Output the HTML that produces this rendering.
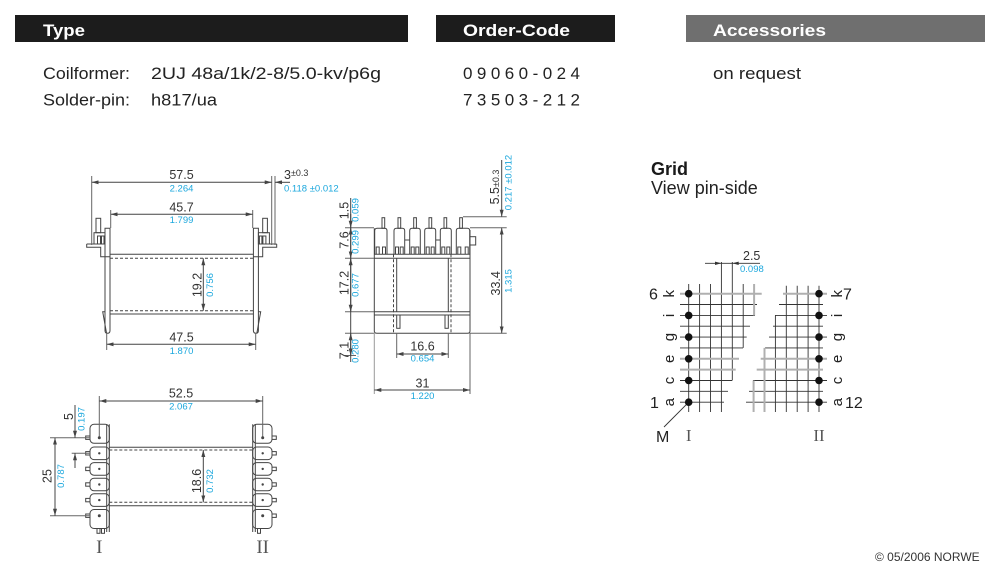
<!DOCTYPE html>
<html><head><meta charset="utf-8"><style>
html,body{margin:0;padding:0;background:#fff;}
svg{display:block;}
</style></head><body>
<svg width="1000" height="577" viewBox="0 0 1000 577" xmlns="http://www.w3.org/2000/svg" font-family="'Liberation Sans', Arial, sans-serif">
<defs>
<marker id="ar" viewBox="0 0 7 4" refX="7" refY="2" markerWidth="7" markerHeight="4" markerUnits="userSpaceOnUse" orient="auto-start-reverse"><path d="M0,0 L7,2 L0,4 Z" fill="#444"/></marker>
</defs>

<!-- HEADER -->
<rect x="15" y="15" width="393" height="27" fill="#1c1c1c"/>
<rect x="436" y="15" width="179" height="27" fill="#1c1c1c"/>
<rect x="686" y="15" width="299" height="27" fill="#6f6f6f"/>
<g font-weight="bold" font-size="17" fill="#fff">
<text x="43" y="36" textLength="42" lengthAdjust="spacingAndGlyphs">Type</text>
<text x="463" y="36" textLength="107" lengthAdjust="spacingAndGlyphs">Order-Code</text>
<text x="713" y="36" textLength="113" lengthAdjust="spacingAndGlyphs">Accessories</text>
</g>
<g font-size="17" fill="#222">
<text x="43" y="79" textLength="87" lengthAdjust="spacingAndGlyphs">Coilformer:</text>
<text x="151" y="79" textLength="230" lengthAdjust="spacingAndGlyphs">2UJ 48a/1k/2-8/5.0-kv/p6g</text>
<text x="43" y="105.5" textLength="87" lengthAdjust="spacingAndGlyphs">Solder-pin:</text>
<text x="151" y="105.5" textLength="66" lengthAdjust="spacingAndGlyphs">h817/ua</text>
<text x="463" y="79" textLength="117" lengthAdjust="spacing">09060-024</text>
<text x="463" y="105.5" textLength="117" lengthAdjust="spacing">73503-212</text>
<text x="713" y="79" textLength="88" lengthAdjust="spacingAndGlyphs">on request</text>
</g>

<!-- FRONT VIEW -->
<g stroke="#444" stroke-width="1" fill="none">
 <g>
  <path d="M105,228.3 V330.5 Q105,333.3 107.5,333.3 Q110,333.3 110,330.5 V228.3 Z"/>
  <path d="M105,311.7 H102.7 L106.5,333"/>
  <rect x="96" y="218.3" width="4.7" height="14.4"/>
  <rect x="94" y="232.7" width="11" height="11.3"/>
  <path d="M97.5,244 V236 H100.5 V244 M101.5,244 V236 H104 V244"/>
  <path d="M86.7,244 H105 M86.7,244 V247.3 H100.7 V256.7 H110"/>
 </g>
 <g transform="translate(363.4,0) scale(-1,1)">
  <path d="M105,228.3 V330.5 Q105,333.3 107.5,333.3 Q110,333.3 110,330.5 V228.3 Z"/>
  <path d="M105,311.7 H102.7 L106.5,333"/>
  <rect x="96" y="218.3" width="4.7" height="14.4"/>
  <rect x="94" y="232.7" width="11" height="11.3"/>
  <path d="M97.5,244 V236 H100.5 V244 M101.5,244 V236 H104 V244"/>
  <path d="M86.7,244 H105 M86.7,244 V247.3 H100.7 V256.7 H110"/>
 </g>
 <path d="M110,254.3 H253.4 M110,314 H253.4"/>
 <path d="M110,258.3 H253.4 M110,310.7 H253.4" stroke-dasharray="3,2"/>
 <!-- ext lines -->
 <path d="M91.7,176 V245 M271.7,176 V245 M275,176 V245 M110.7,210 V228 M252.7,210 V228 M106.7,333 V350 M255.7,333 V350" stroke="#666"/>
 <!-- dims -->
 <line x1="91.7" y1="182.3" x2="271.7" y2="182.3" marker-start="url(#ar)" marker-end="url(#ar)"/>
 <line x1="290" y1="182.3" x2="275" y2="182.3" marker-end="url(#ar)"/>
 <line x1="110.7" y1="214.3" x2="252.7" y2="214.3" marker-start="url(#ar)" marker-end="url(#ar)"/>
 <line x1="203.3" y1="258.3" x2="203.3" y2="310.7" marker-start="url(#ar)" marker-end="url(#ar)"/>
 <line x1="106.7" y1="344.3" x2="255.7" y2="344.3" marker-start="url(#ar)" marker-end="url(#ar)"/>
</g>
<g font-size="12.5" fill="#333" text-anchor="middle">
 <text x="181.5" y="179">57.5</text>
 <text x="181.5" y="211.5">45.7</text>
 <text x="181.5" y="341.5">47.5</text>
 <text transform="translate(201.5,285) rotate(-90)">19.2</text>
</g>
<text x="284" y="179" font-size="12.5" fill="#333">3<tspan font-size="9" dy="-3">±0.3</tspan></text>
<g font-size="9.5" fill="#1aa7dd" text-anchor="middle">
 <text x="181.5" y="191.5">2.264</text>
 <text x="181.5" y="223">1.799</text>
 <text x="181.5" y="354">1.870</text>
 <text transform="translate(213,285) rotate(-90)">0.756</text>
 <text x="284" y="191.5" text-anchor="start">0.118 ±0.012</text>
</g>

<!-- SIDE VIEW -->
<g stroke="#444" stroke-width="1" fill="none">
 <path d="M374.3,228.3 V331 Q374.3,333.3 377,333.3 H467.5 Q470,333.3 470,331 V230"/>
 <path d="M374.3,254.3 H470 M374.3,258.3 H470 M374.3,311.7 H470 M374.3,315 H470"/>
 <path d="M396.7,258.3 V311.7 M448.3,258.3 V311.7"/>
 <path d="M393.5,254.3 V333.3 M451,254.3 V333.3" stroke-dasharray="3,2"/>
 <rect x="396.7" y="315" width="3.3" height="13.3"/>
 <rect x="445" y="315" width="3.3" height="13.3"/>
 <rect x="470" y="236.7" width="5.7" height="8.3"/>
 <!-- heads -->
 <path d="M374.7,254.3 V230.8 Q374.7,228.3 377.2,228.3 H384.5 Q387,228.3 387,230.8 V254.3 M376.2,254.3 V247 H379.2 V254.3 M382.5,254.3 V247 H385.5 V254.3"/>
 <path d="M394,254.3 V230.8 Q394,228.3 396.5,228.3 H402.2 Q404.7,228.3 404.7,230.8 V254.3 M395.5,254.3 V247 H398.5 V254.3 M400.2,254.3 V247 H403.2 V254.3"/>
 <path d="M409.7,254.3 V230.8 Q409.7,228.3 412.2,228.3 H417.8 Q420.3,228.3 420.3,230.8 V254.3 M411.2,254.3 V247 H414.2 V254.3 M415.8,254.3 V247 H418.8 V254.3"/>
 <path d="M424.7,254.3 V230.8 Q424.7,228.3 427.2,228.3 H433.2 Q435.7,228.3 435.7,230.8 V254.3 M426.2,254.3 V247 H429.2 V254.3 M431.2,254.3 V247 H434.2 V254.3"/>
 <path d="M440.3,254.3 V230.8 Q440.3,228.3 442.8,228.3 H448.8 Q451.3,228.3 451.3,230.8 V254.3 M441.8,254.3 V247 H444.8 V254.3 M446.8,254.3 V247 H449.8 V254.3"/>
 <path d="M456.3,254.3 V230.8 Q456.3,228.3 458.8,228.3 H467.2 Q469.7,228.3 469.7,230.8 V254.3 M457.8,254.3 V247 H460.8 V254.3 M465.2,254.3 V247 H468.2 V254.3"/>
 <path d="M404.7,240 H409.7 M435.7,240 H440.3"/>
 <rect x="382" y="217.7" width="2.7" height="10.6"/>
 <rect x="398" y="217.7" width="2.7" height="10.6"/>
 <rect x="413.7" y="217.7" width="2.7" height="10.6"/>
 <rect x="429" y="217.7" width="2.7" height="10.6"/>
 <rect x="444" y="217.7" width="2.7" height="10.6"/>
 <rect x="459.7" y="217.7" width="2.7" height="10.6"/>
 <!-- ext lines -->
 <path d="M345,227.7 H374 M345,258.3 H374 M345,311.7 H374 M345,333.3 H374 M345,355.5 H356 M463,216.7 H506.7 M470,227.7 H506.7 M470,333.3 H506.7 M396.7,333 V358 M448.3,333 V358 M470,333 V394" stroke="#666"/>
 <path d="M374.3,333 V394" stroke="#999"/>
 <!-- dims -->
 <line x1="350.7" y1="198" x2="350.7" y2="362"/>
 <line x1="350.7" y1="214" x2="350.7" y2="227.7" marker-end="url(#ar)"/>
 <line x1="350.7" y1="227.7" x2="350.7" y2="258.3" marker-start="url(#ar)" marker-end="url(#ar)"/>
 <line x1="350.7" y1="258.3" x2="350.7" y2="311.7" marker-start="url(#ar)" marker-end="url(#ar)"/>
 <line x1="350.7" y1="333.3" x2="350.7" y2="355.5" marker-start="url(#ar)" marker-end="url(#ar)"/>
 <line x1="501.7" y1="160" x2="501.7" y2="216.7" marker-end="url(#ar)"/>
 <line x1="501.7" y1="227.7" x2="501.7" y2="333.3" marker-start="url(#ar)" marker-end="url(#ar)"/>
 <line x1="396.7" y1="354" x2="448.3" y2="354" marker-start="url(#ar)" marker-end="url(#ar)"/>
 <line x1="374.3" y1="390" x2="470" y2="390" marker-start="url(#ar)" marker-end="url(#ar)"/>
</g>
<g font-size="12.5" fill="#333" text-anchor="middle">
 <text transform="translate(348.5,210.5) rotate(-90)">1.5</text>
 <text transform="translate(348.5,240) rotate(-90)">7.6</text>
 <text transform="translate(348.5,283) rotate(-90)">17.2</text>
 <text transform="translate(348.5,350.5) rotate(-90)">7.1</text>
 <text transform="translate(499,187) rotate(-90)">5.5<tspan font-size="9">±0.3</tspan></text>
 <text transform="translate(500,283.3) rotate(-90)">33.4</text>
 <text x="422.5" y="350.7">16.6</text>
 <text x="422.5" y="387.5">31</text>
</g>
<g font-size="9.5" fill="#1aa7dd" text-anchor="middle">
 <text transform="translate(358.5,210) rotate(-90)">0.059</text>
 <text transform="translate(358.5,242) rotate(-90)">0.299</text>
 <text transform="translate(358.5,285) rotate(-90)">0.677</text>
 <text transform="translate(358.5,351) rotate(-90)">0.280</text>
 <text transform="translate(511.7,182.5) rotate(-90)">0.217 ±0.012</text>
 <text transform="translate(511.7,281) rotate(-90)">1.315</text>
 <text x="422.5" y="361.5">0.654</text>
 <text x="422.5" y="399">1.220</text>
</g>

<!-- BOTTOM VIEW -->
<g stroke="#444" stroke-width="1" fill="none">
 <g>
  <rect x="90" y="424.3" width="19.3" height="19" rx="4"/>
  <rect x="90" y="447" width="19.3" height="12.6" rx="4"/>
  <rect x="90" y="462.6" width="19.3" height="12.6" rx="4"/>
  <rect x="90" y="478.2" width="19.3" height="12.6" rx="4"/>
  <rect x="90" y="493.8" width="19.3" height="12.6" rx="4"/>
  <rect x="90" y="509.5" width="19.3" height="19" rx="4"/>
  <path d="M106.7,424.3 V532 M109.3,424.3 V532"/>
  <rect x="85.7" y="436" width="4.3" height="3.4"/>
  <rect x="85.7" y="451.6" width="4.3" height="3.4"/>
  <rect x="85.7" y="467.2" width="4.3" height="3.4"/>
  <rect x="85.7" y="482.8" width="4.3" height="3.4"/>
  <rect x="85.7" y="498.4" width="4.3" height="3.4"/>
  <rect x="85.7" y="514" width="4.3" height="3.4"/>
  <rect x="97" y="528.5" width="3" height="4.8"/>
  <rect x="101.5" y="528.5" width="3" height="4.8"/>
 </g>
 <g transform="translate(362,0) scale(-1,1)">
  <rect x="90" y="424.3" width="19.3" height="19" rx="4"/>
  <rect x="90" y="447" width="19.3" height="12.6" rx="4"/>
  <rect x="90" y="462.6" width="19.3" height="12.6" rx="4"/>
  <rect x="90" y="478.2" width="19.3" height="12.6" rx="4"/>
  <rect x="90" y="493.8" width="19.3" height="12.6" rx="4"/>
  <rect x="90" y="509.5" width="19.3" height="19" rx="4"/>
  <path d="M106.7,424.3 V532 M109.3,424.3 V532"/>
  <rect x="85.7" y="436" width="4.3" height="3.4"/>
  <rect x="85.7" y="451.6" width="4.3" height="3.4"/>
  <rect x="85.7" y="467.2" width="4.3" height="3.4"/>
  <rect x="85.7" y="482.8" width="4.3" height="3.4"/>
  <rect x="85.7" y="498.4" width="4.3" height="3.4"/>
  <rect x="85.7" y="514" width="4.3" height="3.4"/>
  <rect x="101.5" y="528.5" width="3" height="4.8"/>
 </g>
 <path d="M109.3,447.3 H252.7 M109.3,505.7 H252.7"/>
 <path d="M109.3,450 H252.7 M109.3,502.3 H252.7" stroke-dasharray="3,2"/>
 <!-- ext -->
 <path d="M99.3,396 V437 M262.7,396 V437 M50,437.7 H90 M50,515.7 H90 M71.7,453.3 H90" stroke="#666"/>
 <line x1="99.3" y1="401" x2="262.7" y2="401" marker-start="url(#ar)" marker-end="url(#ar)"/>
 <line x1="203.3" y1="450" x2="203.3" y2="502.3" marker-start="url(#ar)" marker-end="url(#ar)"/>
 <line x1="55" y1="437.7" x2="55" y2="515.7" marker-start="url(#ar)" marker-end="url(#ar)"/>
 <line x1="75" y1="405" x2="75" y2="437.7" marker-end="url(#ar)"/>
 <line x1="75" y1="468" x2="75" y2="453.3" marker-end="url(#ar)"/>
</g>
<g fill="#444">
 <circle cx="99.3" cy="437.7" r="1.5"/><circle cx="99.3" cy="453.3" r="1.2"/><circle cx="99.3" cy="468.9" r="1.2"/><circle cx="99.3" cy="484.5" r="1.2"/><circle cx="99.3" cy="500.1" r="1.2"/><circle cx="99.3" cy="515.7" r="1.5"/>
 <circle cx="262.7" cy="437.7" r="1.5"/><circle cx="262.7" cy="453.3" r="1.2"/><circle cx="262.7" cy="468.9" r="1.2"/><circle cx="262.7" cy="484.5" r="1.2"/><circle cx="262.7" cy="500.1" r="1.2"/><circle cx="262.7" cy="515.7" r="1.5"/>
</g>
<g font-size="12.5" fill="#333" text-anchor="middle">
 <text x="181" y="397.5">52.5</text>
 <text transform="translate(201,481) rotate(-90)">18.6</text>
 <text transform="translate(51.5,476) rotate(-90)">25</text>
 <text transform="translate(73,416.5) rotate(-90)">5</text>
</g>
<g font-size="9.5" fill="#1aa7dd" text-anchor="middle">
 <text x="181" y="409.5">2.067</text>
 <text transform="translate(213,481) rotate(-90)">0.732</text>
 <text transform="translate(64,476) rotate(-90)">0.787</text>
 <text transform="translate(84.5,419) rotate(-90)">0.197</text>
</g>
<g font-family="'Liberation Serif', serif" font-size="19" fill="#555" text-anchor="middle">
 <text x="99.3" y="553">I</text>
 <text x="262.7" y="553">II</text>
</g>

<!-- GRID -->
<text x="651" y="175" font-size="18" font-weight="bold" fill="#1a1a1a">Grid</text>
<text x="651" y="194" font-size="18" fill="#222">View pin-side</text>

<g stroke="#333" stroke-width="0.9">
 <path d="M688.7,284 V412 M699.6,284 V412 M710.5,284 V412 M721.4,262 V412 M732.3,262 V380.5 M743.2,284 V347.9"/>
 <path d="M680,304.5 H757 M680,315.4 H755 M680,326.2 H750 M680,337.1 H746.7 M680,347.9 H743 M680,380.5 H732 M680,391.3 H728 M680,402.2 H724"/>
 <path d="M819,285.7 V412 M808.1,285.7 V412 M797.2,285.7 V412 M786.3,285.7 V412 M775.4,315.4 V412"/>
 <path d="M779,304.5 H823 M775,315.4 H827 M773,326.2 H823 M769,337.1 H827 M765,347.9 H823 M753,380.5 H827 M749,391.3 H823 M746,402.2 H827"/>
 <path d="M705,263.3 H760"/>
 <path d="M664,427 L688.7,402.2"/>
</g>
<g stroke="#b0b0b0" stroke-width="2">
 <path d="M680,293.7 H761.7 M680,358.8 H739 M680,369.6 H735.7 M754.1,284 V315.4"/>
 <path d="M783,293.7 H827 M760.7,358.8 H827 M756.7,369.6 H823 M764.5,347.9 V412 M753.6,380.5 V412"/>
</g>
<g fill="#333">
 <polygon points="721.4,263.3 715,261.6 715,265"/>
 <polygon points="732.3,263.3 738.7,261.6 738.7,265"/>
</g>
<g fill="#111">
 <circle cx="688.7" cy="293.7" r="3.8"/><circle cx="688.7" cy="315.4" r="3.8"/><circle cx="688.7" cy="337.1" r="3.8"/><circle cx="688.7" cy="358.8" r="3.8"/><circle cx="688.7" cy="380.5" r="3.8"/><circle cx="688.7" cy="402.2" r="3.8"/>
 <circle cx="819" cy="293.7" r="3.8"/><circle cx="819" cy="315.4" r="3.8"/><circle cx="819" cy="337.1" r="3.8"/><circle cx="819" cy="358.8" r="3.8"/><circle cx="819" cy="380.5" r="3.8"/><circle cx="819" cy="402.2" r="3.8"/>
</g>
<text x="743" y="260" font-size="12.5" fill="#333">2.5</text>
<text x="740" y="272" font-size="9.5" fill="#1aa7dd">0.098</text>
<g font-size="16" fill="#222">
 <text x="649" y="299.5">6</text>
 <text x="650" y="408">1</text>
 <text x="843" y="299.5">7</text>
 <text x="845" y="408">12</text>
 <text x="656" y="442">M</text>
</g>
<g font-size="15" fill="#222" text-anchor="middle">
 <text transform="translate(674,293.7) rotate(-90)">k</text>
 <text transform="translate(674,315.4) rotate(-90)">i</text>
 <text transform="translate(674,337.1) rotate(-90)">g</text>
 <text transform="translate(674,358.8) rotate(-90)">e</text>
 <text transform="translate(674,380.5) rotate(-90)">c</text>
 <text transform="translate(674,402.2) rotate(-90)">a</text>
 <text transform="translate(842,293.7) rotate(-90)">k</text>
 <text transform="translate(842,315.4) rotate(-90)">i</text>
 <text transform="translate(842,337.1) rotate(-90)">g</text>
 <text transform="translate(842,358.8) rotate(-90)">e</text>
 <text transform="translate(842,380.5) rotate(-90)">c</text>
 <text transform="translate(842,402.2) rotate(-90)">a</text>
</g>
<g font-family="'Liberation Serif', serif" font-size="17" fill="#555" text-anchor="middle">
 <text x="688.7" y="441">I</text>
 <text x="819" y="441">II</text>
</g>

<text x="875" y="561" font-size="12" fill="#333">© 05/2006 NORWE</text>
</svg>
</body></html>
